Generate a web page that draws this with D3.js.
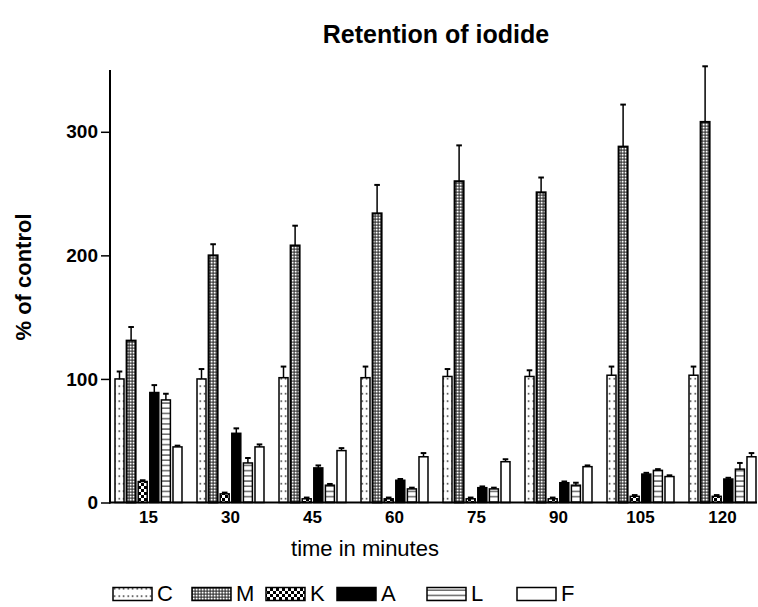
<!DOCTYPE html>
<html>
<head>
<meta charset="utf-8">
<script src="https://d3js.org/d3.v7.min.js"></script>
<style>
  html, body { margin: 0; padding: 0; background: #fff; }
  svg { display: block; font-family: "Liberation Sans", Arial, Helvetica, sans-serif; }
</style>
</head>
<body>
<svg id="chart" width="758" height="607"></svg>
<script>
// ---- data ----
const groups = ["15", "30", "45", "60", "75", "90", "105", "120"];
const series = ["C", "M", "K", "A", "L", "F"];
const valuesC = [100, 100, 101, 101, 102, 102, 103, 103];
const errorsC = [6, 8, 9, 9, 6, 5, 7, 7];
const valuesM = [131, 200, 208, 234, 260, 251, 288, 308];
const errorsM = [11, 9, 16, 23, 29, 12, 34, 45];
const valuesK = [17, 7, 3, 3, 3, 3, 5, 5];
const errorsK = [1, 1, 1, 1, 1, 1, 1, 1];
const valuesA = [89, 56, 28, 18, 12, 16, 23, 19];
const errorsA = [6, 4, 2, 1, 1, 1, 1, 1];
const valuesL = [83, 32, 14, 11, 11, 14, 26, 27];
const errorsL = [5, 4, 1, 1, 1, 2, 1, 5];
const valuesF = [45, 45, 42, 37, 33, 29, 21, 37];
const errorsF = [1, 2, 2, 3, 2, 1, 1, 3];
const yTicks = [0, 100, 200, 300];
const titleText = "Retention of iodide";
const xLabel = "time in minutes";
const yLabel = "% of control";

const valueMap = { C: valuesC, M: valuesM, K: valuesK, A: valuesA, L: valuesL, F: valuesF };
const errorMap = { C: errorsC, M: errorsM, K: errorsK, A: errorsA, L: errorsL, F: errorsF };
const rows = [];
groups.forEach((g, gi) => series.forEach(s => rows.push({ g, s, v: valueMap[s][gi], e: errorMap[s][gi] })));

// ---- layout ----
const svg = d3.select("#chart");
const axisLeft = 110, axisRight = 757, axisBottom = 502.5, axisTop = 70;

const x0 = d3.scaleBand().domain(groups).range([107.5, 763.5]).padding(0);
const x1 = d3.scaleBand().domain(series).range([0, x0.bandwidth()]).paddingInner(0.224).paddingOuter(0.647);
const y = d3.scaleLinear().domain([0, 350]).range([axisBottom, axisTop]);

// ---- patterns ----
const defs = svg.append("defs");
const pC = defs.append("pattern").attr("id", "pat-C").attr("patternUnits", "userSpaceOnUse")
  .attr("width", 4.5).attr("height", 7.5);
pC.append("rect").attr("width", 4.5).attr("height", 7.5).attr("fill", "#fff");
pC.append("rect").attr("x", 1.5).attr("y", 3).attr("width", 1.4).attr("height", 1.4).attr("fill", "#000");

const pM = defs.append("pattern").attr("id", "pat-M").attr("patternUnits", "userSpaceOnUse")
  .attr("width", 3).attr("height", 3);
pM.append("rect").attr("width", 3).attr("height", 3).attr("fill", "#222");
pM.append("rect").attr("x", 0.6).attr("y", 0.6).attr("width", 2).attr("height", 2).attr("fill", "#fff");

const pK = defs.append("pattern").attr("id", "pat-K").attr("patternUnits", "userSpaceOnUse")
  .attr("width", 6).attr("height", 6);
pK.append("rect").attr("width", 6).attr("height", 6).attr("fill", "#fff");
pK.append("rect").attr("width", 3).attr("height", 3).attr("fill", "#000");
pK.append("rect").attr("x", 3).attr("y", 3).attr("width", 3).attr("height", 3).attr("fill", "#000");

const pL = defs.append("pattern").attr("id", "pat-L").attr("patternUnits", "userSpaceOnUse")
  .attr("width", 5).attr("height", 5.2);
pL.append("rect").attr("width", 5).attr("height", 5.2).attr("fill", "#fff");
pL.append("rect").attr("y", 2.2).attr("width", 5).attr("height", 0.9).attr("fill", "#000");

const fills = { C: "url(#pat-C)", M: "url(#pat-M)", K: "url(#pat-K)", A: "#000", L: "url(#pat-L)", F: "#fff" };

// ---- title & labels ----
svg.append("text").attr("x", 436).attr("y", 43).attr("text-anchor", "middle")
  .style("font-size", "25px").attr("font-weight", "bold").text(titleText);

svg.append("text").attr("transform", "translate(31,277) rotate(-90)").attr("text-anchor", "middle")
  .style("font-size", "22px").attr("font-weight", "bold").text(yLabel);

svg.append("text").attr("x", 365).attr("y", 556).attr("text-anchor", "middle")
  .style("font-size", "22px").text(xLabel);

// ---- bars ----
const bars = svg.append("g");
bars.selectAll("rect.bar").data(rows).join("rect").attr("class", "bar")
  .attr("x", d => x0(d.g) + x1(d.s))
  .attr("y", d => y(d.v))
  .attr("width", x1.bandwidth())
  .attr("height", d => y(0) - y(d.v))
  .attr("fill", d => fills[d.s])
  .attr("stroke", "#000")
  .attr("stroke-width", d => d.s === "M" ? 2 : 1.5);

// error bars
const err = svg.append("g").attr("stroke", "#000");
err.selectAll("line.ev").data(rows).join("line").attr("class", "ev")
  .attr("x1", d => x0(d.g) + x1(d.s) + x1.bandwidth() / 2)
  .attr("x2", d => x0(d.g) + x1(d.s) + x1.bandwidth() / 2)
  .attr("y1", d => y(d.v))
  .attr("y2", d => y(d.v + d.e))
  .attr("stroke-width", 1.5);
err.selectAll("line.ec").data(rows).join("line").attr("class", "ec")
  .attr("x1", d => x0(d.g) + x1(d.s) + x1.bandwidth() / 2 - 2.8)
  .attr("x2", d => x0(d.g) + x1(d.s) + x1.bandwidth() / 2 + 2.8)
  .attr("y1", d => y(d.v + d.e))
  .attr("y2", d => y(d.v + d.e))
  .attr("stroke-width", 2);

// ---- axes ----
const yAxis = d3.axisLeft(y).tickValues(yTicks).tickSize(9).tickPadding(3).tickFormat(d3.format("d"));
const gy = svg.append("g").attr("transform", `translate(${axisLeft},0)`).call(yAxis);
gy.attr("font-size", null).attr("font-family", null);
gy.select(".domain").remove();
gy.selectAll(".tick line").attr("stroke", "#000").attr("stroke-width", 1.5);
gy.selectAll(".tick text").style("font-size", "19px").style("font-weight", "bold")
  .style("font-family", "'Liberation Sans', Arial, sans-serif").attr("fill", "#000");
svg.append("line").attr("x1", axisLeft).attr("x2", axisLeft).attr("y1", axisTop).attr("y2", axisBottom + 1)
  .attr("stroke", "#000").attr("stroke-width", 2);

const xAxis = d3.axisBottom(x0).tickSize(0).tickPadding(8);
const gx = svg.append("g").attr("transform", `translate(0,${axisBottom})`).call(xAxis);
gx.attr("font-size", null).attr("font-family", null);
gx.select(".domain").remove();
gx.selectAll(".tick text").style("font-size", "17px").style("font-weight", "bold")
  .style("font-family", "'Liberation Sans', Arial, sans-serif").attr("fill", "#000");
svg.append("line").attr("x1", axisLeft - 1).attr("x2", axisRight).attr("y1", axisBottom).attr("y2", axisBottom)
  .attr("stroke", "#000").attr("stroke-width", 2);

// ---- legend ----
const legendX = [113, 192, 266, 337, 427, 517];
const legend = svg.append("g");
series.forEach((s, i) => {
  legend.append("rect").attr("x", legendX[i]).attr("y", 587.5).attr("width", 39).attr("height", 13)
    .attr("fill", fills[s]).attr("stroke", "#000").attr("stroke-width", 1.5);
  legend.append("text").attr("x", legendX[i] + 44).attr("y", 601).style("font-size", "22px").text(s);
});
</script>
</body>
</html>
